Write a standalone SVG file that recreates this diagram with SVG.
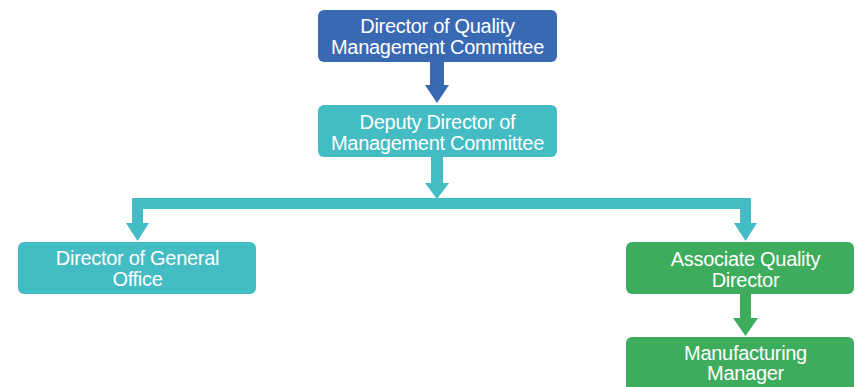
<svg xmlns="http://www.w3.org/2000/svg" width="855" height="387" viewBox="0 0 855 387">
<style>
.t{font-family:"Liberation Sans",Arial,sans-serif;font-size:20px;letter-spacing:-0.3px;fill:#ffffff;text-anchor:middle}
.blue{fill:#3a69b4}
.teal{fill:#44bcc3}
.green{fill:#3eac5d}
</style>
<rect width="855" height="387" fill="#ffffff"/>
<g id="connectors">
<polygon class="blue" points="430,62 444,62 444,85 449,85 437,103 425,85 430,85"/>
<polygon class="teal" points="431,157 443,157 443,183 449,183 437,199 425,183 431,183"/>
<polygon class="teal" points="132,198 751,198 751,223 757,223 745.5,241 734,223 740,223 740,209 143,209 143,223 149,223 137.5,241 126,223 132,223"/>
<polygon class="green" points="740,294 751,294 751,318 758,318 745.5,336 733,318 740,318"/>
</g>
<g id="director-quality">
<rect class="blue" x="318" y="10" width="239" height="52" rx="6"/>
<text class="t" x="437.5" y="33">Director of Quality</text>
<text class="t" x="437.5" y="54">Management Committee</text>
</g>
<g id="deputy-director">
<rect class="teal" x="318" y="105" width="239" height="52" rx="6"/>
<text class="t" x="437.5" y="129">Deputy Director of</text>
<text class="t" x="437.5" y="150">Management Committee</text>
</g>
<g id="director-general-office">
<rect class="teal" x="18" y="242" width="238" height="52" rx="6"/>
<text class="t" x="137.5" y="265">Director of General</text>
<text class="t" x="137.5" y="286">Office</text>
</g>
<g id="associate-quality-director">
<rect class="green" x="626" y="242" width="228" height="52" rx="6"/>
<text class="t" x="745.5" y="266">Associate Quality</text>
<text class="t" x="745.5" y="287">Director</text>
</g>
<g id="manufacturing-manager">
<rect class="green" x="626" y="337" width="228" height="60" rx="6"/>
<text class="t" x="745.5" y="360">Manufacturing</text>
<text class="t" x="745.5" y="380">Manager</text>
</g>
</svg>
